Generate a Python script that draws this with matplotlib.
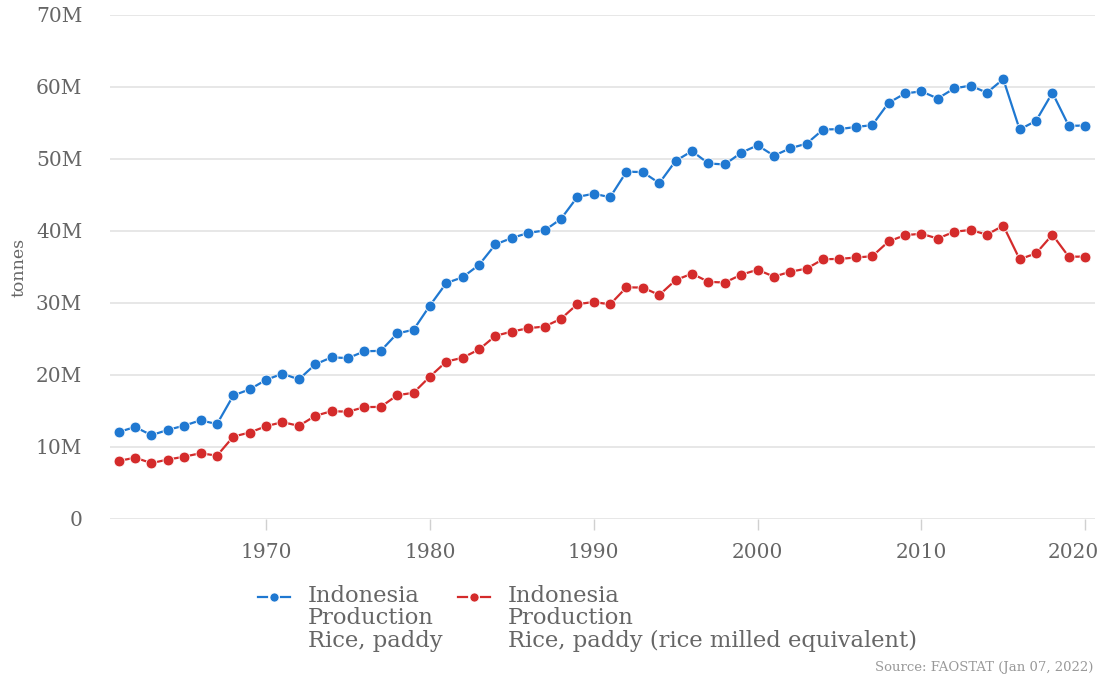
import numpy as np
import matplotlib
matplotlib.use("Agg")
import matplotlib.pyplot as plt
import matplotlib.transforms as mtransforms
from matplotlib.lines import Line2D
from matplotlib.ticker import FuncFormatter

# Indonesia rice production, million tonnes
years = list(range(1961, 2021))
paddy = [12.08, 12.78, 11.64, 12.38, 12.97, 13.71, 13.18, 17.16, 18.01, 19.33,
         20.18, 19.39, 21.48, 22.46, 22.34, 23.30, 23.35, 25.77, 26.28, 29.65,
         32.77, 33.58, 35.30, 38.14, 39.03, 39.73, 40.08, 41.68, 44.73, 45.18,
         44.69, 48.24, 48.18, 46.64, 49.74, 51.10, 49.38, 49.24, 50.87, 51.90,
         50.46, 51.49, 52.14, 54.09, 54.15, 54.45, 54.70, 57.80, 59.10, 59.40,
         58.40, 59.80, 60.20, 59.20, 61.10, 54.10, 55.30, 59.20, 54.60, 54.65]
milled = [8.06, 8.52, 7.76, 8.26, 8.65, 9.14, 8.79, 11.45, 12.01, 12.89,
          13.46, 12.93, 14.33, 14.98, 14.90, 15.54, 15.57, 17.19, 17.53, 19.78,
          21.86, 22.40, 23.55, 25.44, 26.03, 26.50, 26.73, 27.80, 29.84, 30.14,
          29.81, 32.18, 32.14, 31.11, 33.18, 34.08, 32.94, 32.84, 33.93, 34.62,
          33.66, 34.34, 34.78, 36.08, 36.12, 36.32, 36.49, 38.55, 39.42, 39.62,
          38.95, 39.89, 40.15, 39.49, 40.75, 36.08, 36.89, 39.49, 36.42, 36.45]

labels = ["Indonesia\nProduction\nRice, paddy",
          "Indonesia\nProduction\nRice, paddy (rice milled equivalent)"]
colors = ["#1f78d1", "#d42b2b"]

plt.rcParams['font.family'] = ['DejaVu Serif']
txt = "#666666"
W, H = 1103, 677

fig = plt.figure(figsize=(11.03, 6.77), dpi=100)
ax = fig.add_axes([110/W, 1 - 519/H, (1095 - 110)/W, (519 - 15)/H])

for vals, lab, c in zip([paddy, milled], labels, colors):
    ax.plot(years, np.array(vals) * 1e6, color=c, lw=1.6, marker='o', ms=7.8,
            mec='white', mew=0.6, label=lab)

ax.set_xlim(1960.47, 2020.6)
ax.set_ylim(0, 70e6)
ax.set_yticks(np.arange(0, 70e6 + 1, 10e6))
ax.yaxis.set_major_formatter(FuncFormatter(lambda v, p: "0" if v == 0 else f"{v/1e6:.0f}M"))
ax.set_xticks([1970, 1980, 1990, 2000, 2010, 2020])

for s in ax.spines.values():
    s.set_visible(False)
ax.grid(axis='y', color='#e3e3e3', lw=1.2)
ax.set_axisbelow(True)
ax.tick_params(axis='y', length=0, pad=20, labelsize=14.5, labelcolor=txt)
ax.tick_params(axis='x', length=8, width=1, color='#d0d0d0', pad=9,
               labelsize=14.5, labelcolor=txt)
ax.set_ylabel("tonnes", color=txt, fontsize=12.5)
ax.yaxis.set_label_coords(-0.084, 0.5)

# last year label is pulled left so it stays inside the figure
last = ax.get_xticklabels()[-1]
last.set_transform(last.get_transform() +
                   mtransforms.ScaledTranslation(-12/100, 0, fig.dpi_scale_trans))

# legend built by hand: symbol sits beside the first line of each label
leg_x = [258, 458]
for x0, lab, c in zip(leg_x, labels, colors):
    y = 1 - 597/H
    for a, b in [(x0, x0 + 9), (x0 + 23, x0 + 32)]:
        fig.add_artist(Line2D([a/W, b/W], [y, y], color=c, lw=1.6))
    fig.add_artist(Line2D([(x0 + 16)/W], [y], color=c, marker='o', ms=6.5,
                          mec='white', mew=0.5))
    fig.text((x0 + 50)/W, 1 - 585/H, lab, ha='left', va='top', fontsize=16.3,
             color=txt, linespacing=1.02)

fig.text(0.991, 0.004, "Source: FAOSTAT (Jan 07, 2022)", ha='right', va='bottom',
         fontsize=9.5, color='#999999')

fig.savefig("out.png", dpi=100)
